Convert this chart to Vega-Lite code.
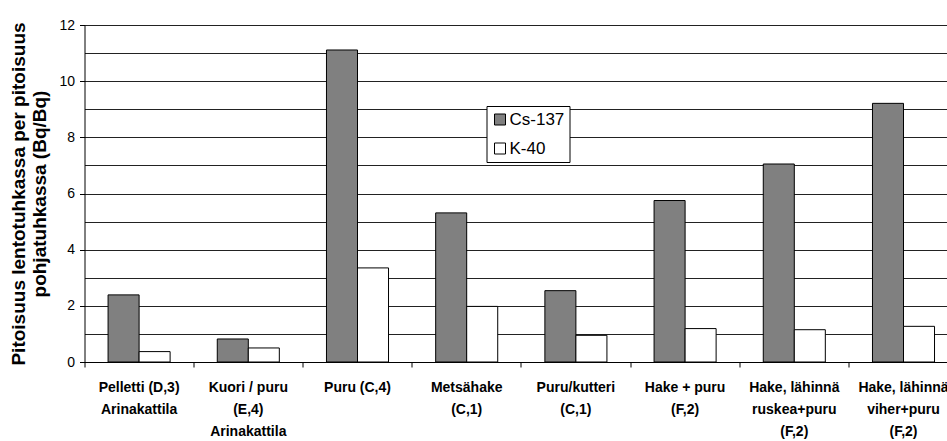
{
  "$schema": "https://vega.github.io/schema/vega-lite/v6.json",
  "autosize": {"type": "none"},
  "width": 862.5,
  "height": 337,
  "padding": {"left": 84.5, "top": 25, "right": 0, "bottom": 79},
  "background": "white",
  "config": {
    "font": "Liberation Sans",
    "view": {"stroke": null}
  },
  "data": {
    "values": [
      {"polttoaine": "Pelletti (D,3)\nArinakattila", "nuklidi": "Cs-137", "suhde": 2.39},
      {"polttoaine": "Pelletti (D,3)\nArinakattila", "nuklidi": "K-40", "suhde": 0.37},
      {"polttoaine": "Kuori / puru\n(E,4)\nArinakattila", "nuklidi": "Cs-137", "suhde": 0.82},
      {"polttoaine": "Kuori / puru\n(E,4)\nArinakattila", "nuklidi": "K-40", "suhde": 0.5},
      {"polttoaine": "Puru (C,4)", "nuklidi": "Cs-137", "suhde": 11.11},
      {"polttoaine": "Puru (C,4)", "nuklidi": "K-40", "suhde": 3.35},
      {"polttoaine": "Metsähake\n(C,1)", "nuklidi": "Cs-137", "suhde": 5.31},
      {"polttoaine": "Metsähake\n(C,1)", "nuklidi": "K-40", "suhde": 1.98},
      {"polttoaine": "Puru/kutteri\n(C,1)", "nuklidi": "Cs-137", "suhde": 2.54},
      {"polttoaine": "Puru/kutteri\n(C,1)", "nuklidi": "K-40", "suhde": 0.95},
      {"polttoaine": "Hake + puru\n(F,2)", "nuklidi": "Cs-137", "suhde": 5.75},
      {"polttoaine": "Hake + puru\n(F,2)", "nuklidi": "K-40", "suhde": 1.19},
      {"polttoaine": "Hake, lähinnä\nruskea+puru\n(F,2)", "nuklidi": "Cs-137", "suhde": 7.05},
      {"polttoaine": "Hake, lähinnä\nruskea+puru\n(F,2)", "nuklidi": "K-40", "suhde": 1.15},
      {"polttoaine": "Hake, lähinnä\nviher+puru\n(F,2)", "nuklidi": "Cs-137", "suhde": 9.21},
      {"polttoaine": "Hake, lähinnä\nviher+puru\n(F,2)", "nuklidi": "K-40", "suhde": 1.27}
    ]
  },
  "mark": {"type": "bar", "stroke": "#000", "strokeWidth": 1},
  "encoding": {
    "x": {
      "field": "polttoaine",
      "type": "nominal",
      "sort": null,
      "scale": {"range": [0, 873.6], "paddingInner": 0, "paddingOuter": 0},
      "axis": {
        "title": null,
        "labelAngle": 0,
        "labelExpr": "split(datum.label, '\\n')",
        "labelFont": "Liberation Sans",
        "labelFontSize": 14,
        "labelFontWeight": "bold",
        "labelColor": "#000",
        "labelLineHeight": 22,
        "labelBaseline": "top",
        "labelPadding": 13,
        "labelLimit": 200,
        "bandPosition": 0,
        "domainColor": "#000",
        "domainWidth": 1,
        "tickColor": "#000",
        "tickSize": 5,
        "grid": false
      }
    },
    "xOffset": {
      "field": "nuklidi",
      "type": "nominal",
      "sort": ["Cs-137", "K-40"],
      "scale": {"paddingInner": 0, "paddingOuter": 0.76}
    },
    "y": {
      "field": "suhde",
      "type": "quantitative",
      "scale": {"domain": [0, 12], "nice": false},
      "axis": {
        "title": ["Pitoisuus lentotuhkassa per pitoisuus", "pohjatuhkassa (Bq/Bq)"],
        "titleFont": "Liberation Sans",
        "titleFontSize": 19,
        "titleFontWeight": "bold",
        "titleColor": "#000",
        "titleLineHeight": 21,
        "titlePadding": 9,
        "values": [0, 1, 2, 3, 4, 5, 6, 7, 8, 9, 10, 11, 12],
        "labelExpr": "datum.value % 2 == 0 ? datum.label : ''",
        "labelFont": "Liberation Sans",
        "labelFontSize": 14,
        "labelColor": "#000",
        "labelPadding": 5,
        "tickSize": 5,
        "tickColor": "#000",
        "tickOpacity": {"condition": {"test": "datum.value % 2 == 1", "value": 0}, "value": 1},
        "domainColor": "#000",
        "domainWidth": 1,
        "grid": true,
        "gridColor": "#222",
        "gridWidth": 1,
        "gridOpacity": 1
      }
    },
    "fill": {
      "field": "nuklidi",
      "type": "nominal",
      "sort": ["Cs-137", "K-40"],
      "scale": {"domain": ["Cs-137", "K-40"], "range": ["#808080", "#ffffff"]},
      "legend": {
        "title": null,
        "orient": "none",
        "legendX": 402,
        "legendY": 81,
        "direction": "vertical",
        "strokeColor": "#000",
        "fillColor": "#fff",
        "padding": 5,
        "symbolType": "square",
        "symbolSize": 121,
        "symbolStrokeColor": "#000",
        "symbolStrokeWidth": 1,
        "labelFont": "Liberation Sans",
        "labelFontSize": 17,
        "labelColor": "#000",
        "labelOffset": 1,
        "rowPadding": 11
      }
    }
  }
}
